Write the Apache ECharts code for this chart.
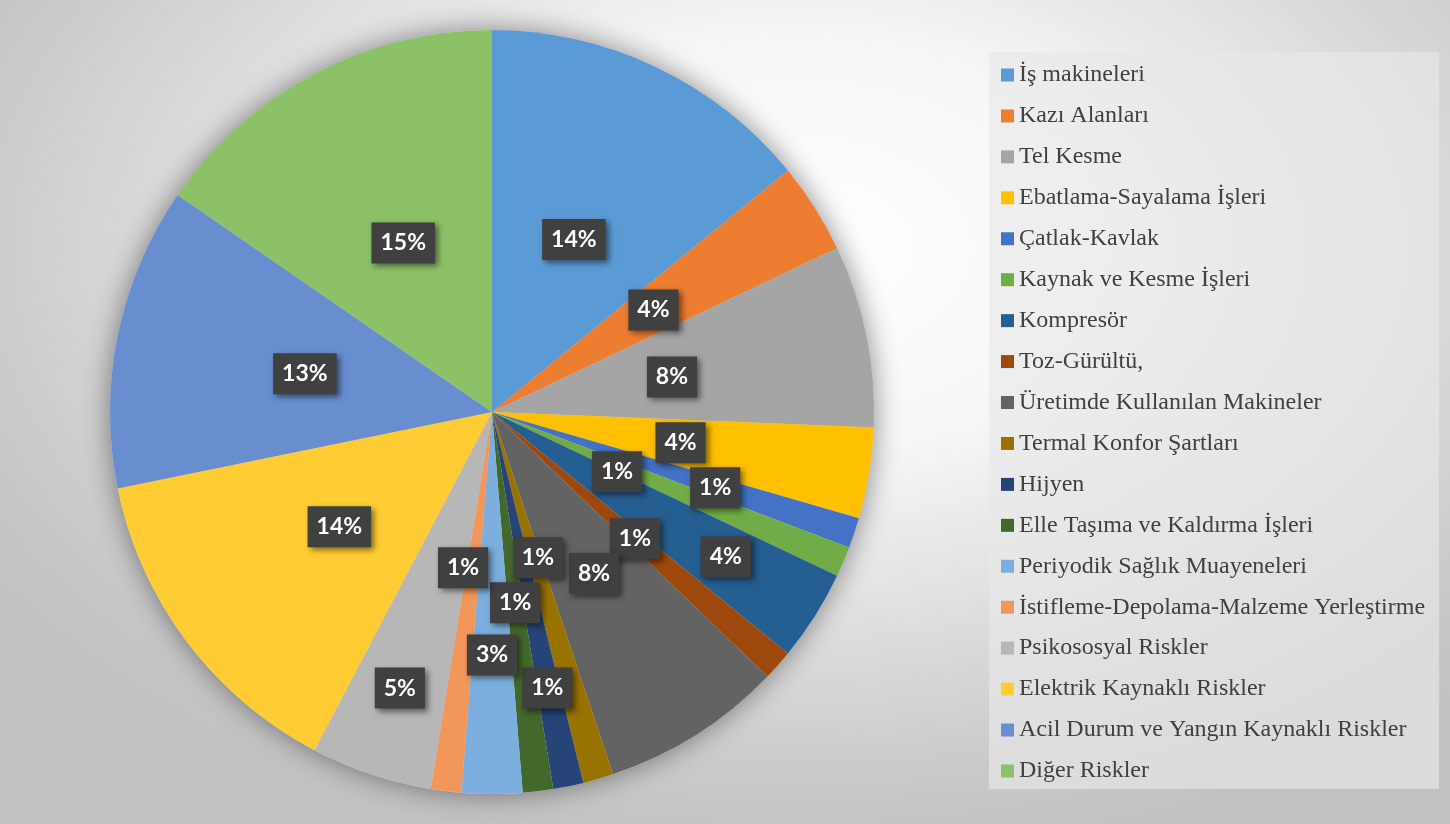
<!DOCTYPE html>
<html>
<head>
<meta charset="utf-8">
<title>Risk dağılımı</title>
<script src="https://cdn.jsdelivr.net/npm/echarts@6/dist/echarts.min.js"></script>
<style>
  html, body { margin: 0; padding: 0; }
  #chart {
    width: 1450px; height: 824px;
    background: radial-gradient(ellipse 66% 74% at 55% 30%, #ffffff 0%, #f7f7f7 33%, #cbcbcb 85%, #c2c2c2 100%);
  }
</style>
</head>
<body>
<div id="chart"></div>
<script>
// Risk categories and their counts
const categories = [
  'İş makineleri',
  'Kazı Alanları',
  'Tel Kesme',
  'Ebatlama-Sayalama İşleri',
  'Çatlak-Kavlak',
  'Kaynak ve Kesme İşleri',
  'Kompresör',
  'Toz-Gürültü,',
  'Üretimde Kullanılan Makineler',
  'Termal Konfor Şartları',
  'Hijyen',
  'Elle Taşıma ve Kaldırma İşleri',
  'Periyodik Sağlık Muayeneleri',
  'İstifleme-Depolama-Malzeme Yerleştirme',
  'Psikososyal Riskler',
  'Elektrik Kaynaklı Riskler',
  'Acil Durum ve Yangın Kaynaklı Riskler',
  'Diğer Riskler'
];
const values = [11, 3, 6, 3, 1, 1, 3, 1, 6, 1, 1, 1, 2, 1, 4, 11, 10, 12];

// Slice colours
const colors = [
  '#5B9BD5', '#ED7D31', '#A5A5A5', '#FFC000', '#4472C4', '#70AD47',
  '#255E91', '#9E480E', '#636363', '#997300', '#264478', '#43682B',
  '#7CAFDD', '#F1975A', '#B7B7B7', '#FFCD33', '#698ED0', '#8CC168'
];

// Label placement: fraction of the radius along the slice's mid angle, plus small angular nudges (deg)
const labelRadius = [0.5, 0.5, 0.48, 0.5, 0.617, 0.363, 0.72, 0.5, 0.5, 0.40, 0.737, 0.503, 0.636, 0.415, 0.762, 0.5, 0.5, 0.5];
const labelShift  = [0, 0, 0.5, 0, 0.3, 2.5, -0.5, 0, 0, -1.35, 0.2, 0, 0, 3.6, 0, 0, 0, 0];

const CX = 492, CY = 412, R = 382;

const total = values.reduce((a, b) => a + b, 0);
const midAngles = [];
let acc = 0;
values.forEach(v => { midAngles.push((acc + v / 2) / total * 360); acc += v; });

const chart = echarts.init(document.getElementById('chart'), null, { renderer: 'canvas' });

chart.setOption({
  backgroundColor: 'transparent',
  animation: false,
  color: colors,
  legend: {
    orient: 'vertical',
    left: 989,
    top: 52,
    padding: [11, 14, 6, 12],
    backgroundColor: 'rgba(232,232,232,0.65)',
    icon: 'rect',
    itemWidth: 13,
    itemHeight: 13,
    itemGap: 16.94,
    selectedMode: false,
    data: categories,
    textStyle: {
      fontFamily: '"Liberation Serif", "Times New Roman", serif',
      fontSize: 24,
      lineHeight: 24,
      color: '#404040'
    }
  },
  series: [
    {
      // soft shadow beneath the whole pie
      type: 'pie',
      name: 'shadow',
      silent: true,
      center: [CX, CY],
      radius: [0, R],
      z: 1,
      label: { show: false },
      labelLine: { show: false },
      emphasis: { disabled: true },
      itemStyle: {
        color: '#d8d8d8',
        borderWidth: 0,
        shadowBlur: 28,
        shadowColor: 'rgba(0,0,0,0.45)'
      },
      data: [{ value: 1, name: '_' }]
    },
    {
      type: 'pie',
      name: 'Riskler',
      center: [CX, CY],
      radius: [0, R],
      startAngle: 90,
      clockwise: true,
      z: 2,
      emphasis: { disabled: true },
      itemStyle: { borderWidth: 0 },
      labelLine: { show: false },
      label: {
        show: true,
        position: 'inside',
        formatter: p => Math.round(p.value / total * 100) + '%',
        color: '#ffffff',
        fontFamily: 'Lato, "Open Sans", sans-serif',
        fontWeight: 'bold',
        fontSize: 23,
        lineHeight: 23,
        backgroundColor: '#404040',
        padding: [9, 9, 9, 9],
        shadowColor: 'rgba(0,0,0,0.5)',
        shadowBlur: 6,
        shadowOffsetX: 3,
        shadowOffsetY: 3
      },
      labelLayout: p => {
        const i = p.dataIndex;
        const a = (midAngles[i] + labelShift[i]) * Math.PI / 180;
        const f = labelRadius[i] * R;
        return {
          x: CX + Math.sin(a) * f,
          y: CY - Math.cos(a) * f,
          align: 'center',
          verticalAlign: 'middle'
        };
      },
      data: categories.map((name, i) => ({ name, value: values[i] }))
    }
  ]
});
</script>
</body>
</html>
